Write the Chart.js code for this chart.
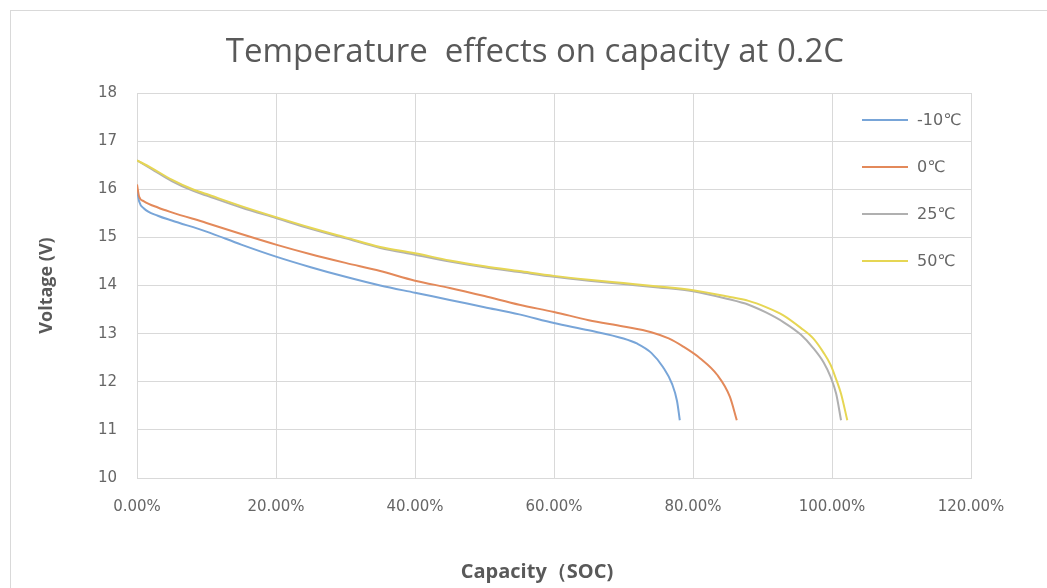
<!DOCTYPE html>
<html>
<head>
<meta charset="utf-8">
<script src="https://cdn.jsdelivr.net/npm/chart.js@4"></script>
<style>
  html, body { margin: 0; padding: 0; background: #fff; }
  #wrap { position: relative; width: 1047px; height: 588px; overflow: hidden; }
  #frame { position: absolute; left: 10px; top: 10px; width: 1100px; height: 640px; border: 1px solid #d9d9d9; box-sizing: border-box; }
  #chart { position: absolute; left: 0; top: 0; }
</style>
</head>
<body>
<div id="wrap">
  <div id="frame"></div>
  <canvas id="chart" width="1047" height="588"></canvas>
</div>
<script>
// --- DATA (capacity as fraction of nominal, voltage in V) ---
const seriesLabels = ['-10\u2103', '0\u2103', '25\u2103', '50\u2103'];
const seriesColors = ['#78A5D8', '#E3895A', '#B0B0B0', '#E6D654'];

const capMinus10 = [0, 0.003, 0.01, 0.03, 0.05, 0.10, 0.15, 0.20, 0.25, 0.30, 0.35, 0.40, 0.45, 0.50, 0.55, 0.60, 0.65, 0.70, 0.72, 0.74, 0.757, 0.77, 0.777, 0.781];
const voltMinus10 = [16.0, 15.75, 15.6, 15.45, 15.35, 15.12, 14.85, 14.6, 14.38, 14.18, 14.0, 13.85, 13.7, 13.55, 13.4, 13.22, 13.07, 12.9, 12.79, 12.6, 12.3, 11.95, 11.6, 11.2];

const capZero = [0, 0.003, 0.01, 0.03, 0.05, 0.10, 0.15, 0.20, 0.25, 0.30, 0.35, 0.40, 0.45, 0.50, 0.55, 0.60, 0.65, 0.70, 0.74, 0.765, 0.786, 0.81, 0.835, 0.853, 0.863];
const voltZero = [16.1, 15.85, 15.75, 15.62, 15.52, 15.3, 15.07, 14.85, 14.65, 14.47, 14.3, 14.1, 13.95, 13.78, 13.6, 13.45, 13.28, 13.15, 13.03, 12.9, 12.73, 12.49, 12.14, 11.69, 11.2];

const cap25 = [0, 0.02, 0.05, 0.08, 0.10, 0.15, 0.20, 0.25, 0.30, 0.35, 0.40, 0.45, 0.50, 0.55, 0.60, 0.65, 0.70, 0.75, 0.80, 0.85, 0.88, 0.905, 0.93, 0.955, 0.973, 0.988, 0.998, 1.006, 1.013];
const volt25 = [16.6, 16.43, 16.17, 15.97, 15.87, 15.62, 15.4, 15.18, 14.98, 14.78, 14.64, 14.5, 14.38, 14.28, 14.18, 14.1, 14.03, 13.96, 13.88, 13.72, 13.6, 13.44, 13.24, 12.98, 12.7, 12.4, 12.1, 11.75, 11.2];

const cap50 = [0, 0.02, 0.05, 0.08, 0.10, 0.15, 0.20, 0.25, 0.30, 0.35, 0.40, 0.45, 0.50, 0.55, 0.60, 0.65, 0.70, 0.75, 0.80, 0.85, 0.88, 0.905, 0.93, 0.955, 0.973, 0.988, 0.998, 1.006, 1.013, 1.022];
const volt50 = [16.6, 16.45, 16.2, 16.0, 15.9, 15.65, 15.42, 15.2, 15.0, 14.8, 14.67, 14.52, 14.4, 14.3, 14.2, 14.12, 14.05, 13.98, 13.9, 13.77, 13.68, 13.55, 13.38, 13.12, 12.9, 12.6, 12.35, 12.05, 11.75, 11.2];

const xTicks = [0, 0.2, 0.4, 0.6, 0.8, 1.0, 1.2];
const yTicks = [10, 11, 12, 13, 14, 15, 16, 17, 18];

const chartTitle = 'Temperature  effects on capacity at 0.2C';
const xTitle = 'Capacity\uFF08SOC)';
const yTitle = 'Voltage (V)';

const textGrey = '#595959';
const tickGrey = '#666666';
const gridGrey = '#d9d9d9';
const tickFont = '"DejaVu Sans", sans-serif';

function toPoints(xs, ys) {
    return xs.map((x, i) => ({ x: x, y: ys[i] }));
}

const allCaps = [capMinus10, capZero, cap25, cap50];
const allVolts = [voltMinus10, voltZero, volt25, volt50];

// 50C drawn last so the yellow sits over the grey, like the original
const datasets = allCaps.map((caps, i) => ({
    label: seriesLabels[i],
    data: toPoints(caps, allVolts[i]),
    borderColor: seriesColors[i],
    backgroundColor: seriesColors[i],
    borderWidth: 2,
    pointRadius: 0,
    showLine: true,
    cubicInterpolationMode: 'monotone',
    order: seriesLabels.length - i
}));

// legend inside the plot on top of the grid, plus the chart title and the
// x axis title, which in the original are centred on the whole frame
const extras = {
    id: 'extras',
    afterDatasetsDraw(chart) {
        const ctx = chart.ctx;
        const x0 = 862, x1 = 908, tx = 917;
        const rows = [120, 167, 214, 261];
        ctx.save();
        ctx.font = '16px ' + tickFont;
        ctx.textBaseline = 'middle';
        ctx.textAlign = 'left';
        chart.data.datasets.forEach((ds, i) => {
            ctx.strokeStyle = ds.borderColor;
            ctx.lineWidth = 2;
            ctx.beginPath();
            ctx.moveTo(x0, rows[i]);
            ctx.lineTo(x1, rows[i]);
            ctx.stroke();
            ctx.fillStyle = tickGrey;
            ctx.fillText(ds.label, tx, rows[i] + 1);
        });

        ctx.fillStyle = textGrey;
        ctx.textAlign = 'center';
        ctx.textBaseline = 'alphabetic';
        ctx.font = '33px "Open Sans", sans-serif';
        ctx.fillText(chartTitle, 535, 62);
        ctx.font = 'bold 20px "Open Sans", sans-serif';
        ctx.fillText(xTitle, 537, 578);
        ctx.restore();
    }
};

Chart.defaults.font.family = '"Open Sans", sans-serif';
Chart.defaults.color = textGrey;

new Chart(document.getElementById('chart').getContext('2d'), {
    type: 'scatter',
    data: { datasets: datasets },
    options: {
        responsive: false,
        animation: false,
        layout: { padding: { left: 30, right: 76, top: 93, bottom: 0 } },
        plugins: {
            legend: { display: false },
            tooltip: { enabled: false },
            title: { display: false }
        },
        scales: {
            x: {
                type: 'linear',
                min: 0,
                max: 1.2,
                afterBuildTicks: (scale) => { scale.ticks = xTicks.map(v => ({ value: v })); },
                ticks: {
                    padding: 20,
                    font: { size: 15, family: tickFont },
                    color: tickGrey,
                    callback: (v) => (v * 100).toFixed(2) + '%'
                },
                grid: { color: gridGrey, drawTicks: false },
                border: { color: gridGrey },
                afterFit: (scale) => { scale.height = 110; }
            },
            y: {
                min: 10,
                max: 18,
                afterBuildTicks: (scale) => { scale.ticks = yTicks.map(v => ({ value: v })); },
                ticks: { padding: 20, font: { size: 15, family: tickFont }, color: tickGrey },
                grid: { color: gridGrey, drawTicks: false },
                border: { color: gridGrey },
                title: {
                    display: true,
                    text: yTitle,
                    color: textGrey,
                    font: { size: 18, weight: 'bold' },
                    padding: { top: 6, bottom: 0 }
                },
                afterFit: (scale) => { scale.width = 107; }
            }
        }
    },
    plugins: [extras]
});
</script>
</body>
</html>
